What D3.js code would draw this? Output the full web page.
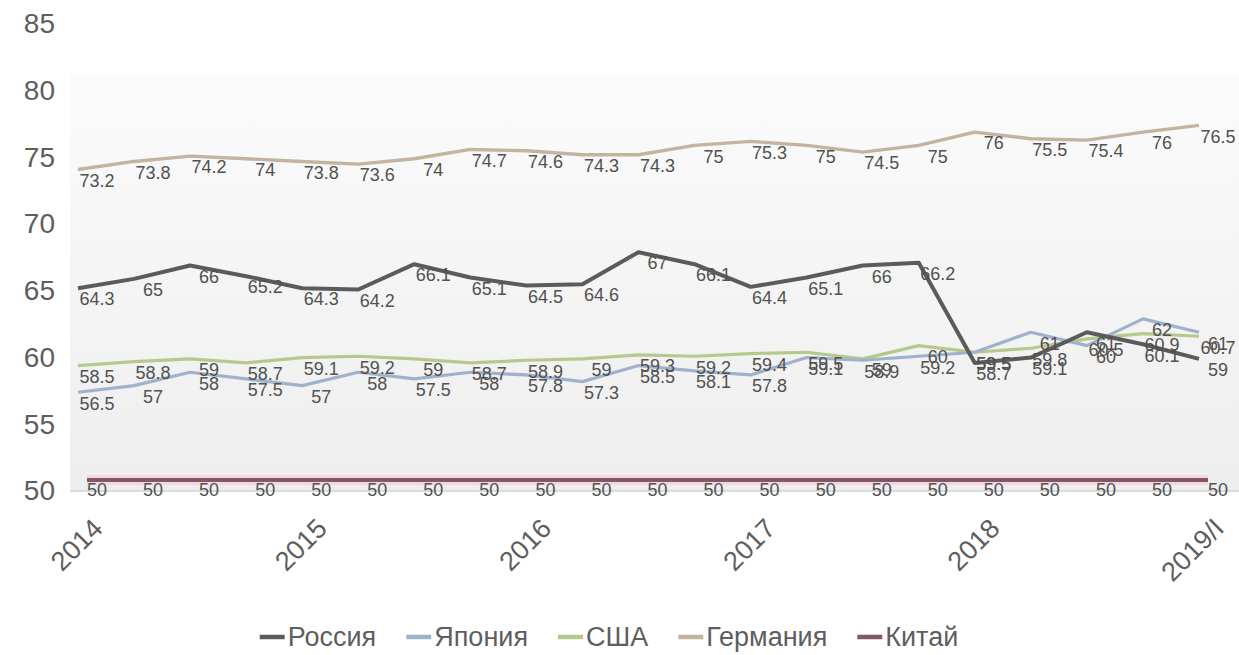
<!DOCTYPE html>
<html>
<head>
<meta charset="utf-8">
<script src="https://cdn.jsdelivr.net/npm/d3@7"></script>
<style>
  html, body { margin: 0; padding: 0; background: #ffffff; }
  svg { display: block; font-family: "Liberation Sans", Arial, sans-serif; }
</style>
</head>
<body>
<svg id="chart" width="1239" height="655"></svg>
<script>
// Quarterly periods, 2014 Q1 through 2019 Q1
const quarters = [
  "2014-1", "2014-2", "2014-3", "2014-4",
  "2015-1", "2015-2", "2015-3", "2015-4",
  "2016-1", "2016-2", "2016-3", "2016-4",
  "2017-1", "2017-2", "2017-3", "2017-4",
  "2018-1", "2018-2", "2018-3", "2018-4",
  "2019-1"
];
const tickQuarters = ["2014-1", "2015-1", "2016-1", "2017-1", "2018-1", "2019-1"];
const tickLabels = ["2014", "2015", "2016", "2017", "2018", "2019/I"];
const yTicks = [50, 55, 60, 65, 70, 75, 80, 85];

const seriesNames = ["Россия", "Япония", "США", "Германия", "Китай"];

const russia = [64.3, 65, 66, 65.2, 64.3, 64.2, 66.1, 65.1, 64.5, 64.6, 67, 66.1, 64.4, 65.1, 66, 66.2, 58.7, 59.1, 61, 60.1, 59];
const japan = [56.5, 57, 58, 57.5, 57, 58, 57.5, 58, 57.8, 57.3, 58.5, 58.1, 57.8, 59.1, 58.9, 59.2, 59.5, 61, 60, 62, 61];
const usa = [58.5, 58.8, 59, 58.7, 59.1, 59.2, 59, 58.7, 58.9, 59, 59.3, 59.2, 59.4, 59.5, 59, 60, 59.5, 59.8, 60.5, 60.9, 60.7];
const germany = [73.2, 73.8, 74.2, 74, 73.8, 73.6, 74, 74.7, 74.6, 74.3, 74.3, 75, 75.3, 75, 74.5, 75, 76, 75.5, 75.4, 76, 76.5];
const china = [50, 50, 50, 50, 50, 50, 50, 50, 50, 50, 50, 50, 50, 50, 50, 50, 50, 50, 50, 50, 50];

const seriesValues = [russia, japan, usa, germany, china];

// Line styling per series (the line layer sits slightly up-left of the label layer)
const styles = {
  "Россия":   { color: "#5b5b5b", width: 4,   halo: null,      shift: [-19, -11] },
  "Япония":   { color: "#9fb2cb", width: 3.2, halo: null,      shift: [-19, -11] },
  "США":      { color: "#b6c98c", width: 3.2, halo: null,      shift: [-19, -11] },
  "Германия": { color: "#c2b49e", width: 3.4, halo: null,      shift: [-19, -11] },
  "Китай":    { color: "#84566a", width: 4,   halo: "#f2d8de", shift: [-10, -10] }
};
const drawOrder = ["Китай", "Германия", "США", "Япония", "Россия"];

const svg = d3.select("#chart");
const W = 1239;

const x = d3.scalePoint().domain(quarters).range([97, 1218]);
const y = d3.scaleLinear().domain([50, 85]).range([490, 23]);

// Plot panel with a soft vertical gradient
const defs = svg.append("defs");
const grad = defs.append("linearGradient")
  .attr("id", "panelGrad").attr("x1", 0).attr("y1", 0).attr("x2", 0).attr("y2", 1);
grad.append("stop").attr("offset", "0%").attr("stop-color", "#fbfbfb");
grad.append("stop").attr("offset", "100%").attr("stop-color", "#eeeeee");

const panelTop = y(81.1);
svg.append("rect")
  .attr("x", 70).attr("y", panelTop)
  .attr("width", W - 70).attr("height", y(50) + 1 - panelTop)
  .attr("fill", "url(#panelGrad)");

// Bottom axis line
svg.append("line")
  .attr("x1", 70).attr("x2", W)
  .attr("y1", y(50) + 1).attr("y2", y(50) + 1)
  .attr("stroke", "#d2d2d2").attr("stroke-width", 1.5);

// Y axis labels
const yAxis = svg.append("g")
  .attr("transform", "translate(55,0)")
  .call(d3.axisLeft(y).tickValues(yTicks).tickSize(0).tickPadding(0).tickFormat(d3.format("d")));
yAxis.select(".domain").remove();
yAxis.selectAll("text")
  .attr("font-size", 28)
  .attr("font-family", "Liberation Sans, Arial, sans-serif")
  .attr("fill", "#5e5e5e")
  .attr("dy", "0.35em");

// X axis labels, rotated
const xAxis = svg.append("g")
  .attr("transform", `translate(0,${y(50) + 1})`)
  .call(d3.axisBottom(x).tickValues(tickQuarters).tickSize(0)
    .tickFormat(q => tickLabels[tickQuarters.indexOf(q)]));
xAxis.select(".domain").remove();
xAxis.selectAll("text")
  .attr("font-size", 27)
  .attr("font-family", "Liberation Sans, Arial, sans-serif")
  .attr("fill", "#5e5e5e")
  .attr("text-anchor", "end")
  .attr("x", 0).attr("y", 0).attr("dy", 0)
  .attr("transform", "translate(7,39) rotate(-45)");

// Lines
const lineGen = d3.line()
  .x((d, i) => x(quarters[i]))
  .y(d => y(d));

const linesG = svg.append("g");
drawOrder.forEach(name => {
  const vals = seriesValues[seriesNames.indexOf(name)];
  const s = styles[name];
  const g = linesG.append("g").attr("transform", `translate(${s.shift[0]},${s.shift[1]})`);
  if (s.halo) {
    g.append("path").datum(vals)
      .attr("d", lineGen)
      .attr("fill", "none")
      .attr("stroke", s.halo)
      .attr("stroke-width", s.width + 6)
      .attr("stroke-linejoin", "round");
  }
  g.append("path").datum(vals)
    .attr("d", lineGen)
    .attr("fill", "none")
    .attr("stroke", s.color)
    .attr("stroke-width", s.width)
    .attr("stroke-linejoin", "round")
    .attr("stroke-linecap", "butt");
});

// Value labels
const labelsG = svg.append("g");
seriesNames.forEach((name, si) => {
  labelsG.selectAll(null)
    .data(seriesValues[si])
    .enter().append("text")
    .attr("x", (d, i) => x(quarters[i]))
    .attr("y", d => y(d))
    .attr("dy", "0.35em")
    .attr("text-anchor", "middle")
    .attr("font-size", 18)
    .attr("fill", "#515151")
    .text(d => d3.format("")(d));
});

// Legend
const legend = svg.append("g").attr("transform", "translate(0,637)");
const items = [];
seriesNames.forEach(name => {
  const it = legend.append("g");
  it.append("line")
    .attr("x1", 0).attr("x2", 25).attr("y1", 0).attr("y2", 0)
    .attr("stroke", styles[name].color).attr("stroke-width", 4.5);
  const t = it.append("text")
    .attr("x", 28).attr("y", 0).attr("dy", "0.35em")
    .attr("font-size", 27)
    .attr("fill", "#5e5e5e")
    .text(name);
  const w = 28 + t.node().getComputedTextLength();
  items.push({ it, w });
});
const gap = 30;
const total = items.reduce((a, b) => a + b.w, 0) + gap * (items.length - 1);
let cursor = 609 - total / 2;
items.forEach(({ it, w }) => {
  it.attr("transform", `translate(${cursor},0)`);
  cursor += w + gap;
});
</script>
</body>
</html>
